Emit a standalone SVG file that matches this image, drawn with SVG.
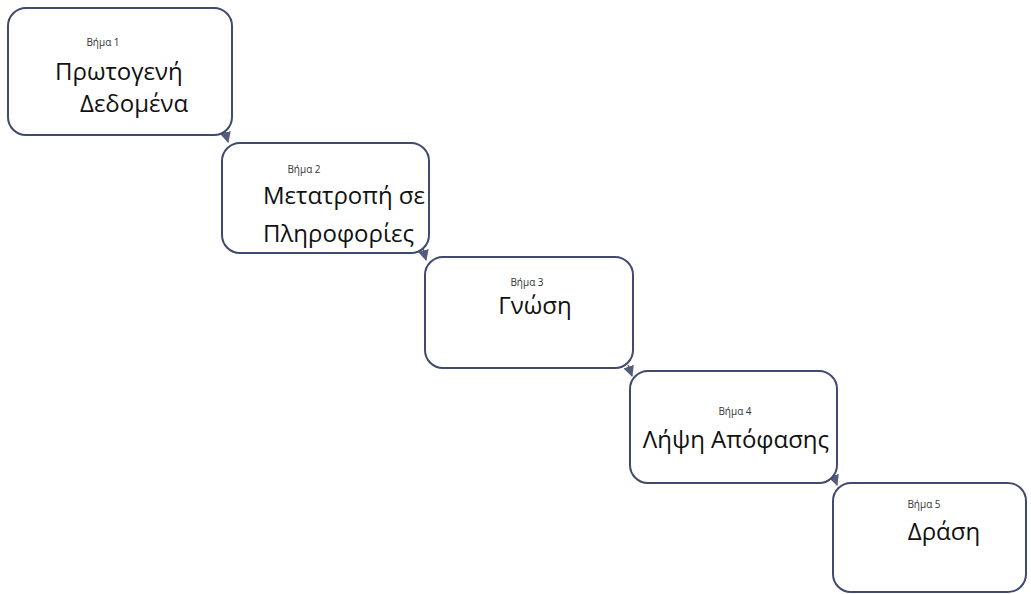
<svg xmlns="http://www.w3.org/2000/svg" width="1031" height="594" viewBox="0 0 1031 594">
<defs>
<style>
.box{fill:#ffffff;stroke:#3f4a6e;stroke-width:2}
.small{font-family:"Open Sans","Noto Sans","DejaVu Sans",sans-serif;font-size:10px;fill:#333333}
.big{font-family:"Open Sans","Noto Sans","DejaVu Sans",sans-serif;font-size:24px;fill:#111111}
.conn{stroke:#5a6080;stroke-width:1.5;fill:none}
</style>
<marker id="arr" viewBox="0 0 10 10" refX="9" refY="5" markerWidth="11" markerHeight="11" markerUnits="userSpaceOnUse" orient="auto">
<path d="M0,0 L10,5 L0,10 Z" fill="#555b7a"/>
</marker>
</defs>
<rect width="1031" height="594" fill="#ffffff"/>
<g id="connectors">
<path class="conn" d="M225,131 L228,142" marker-end="url(#arr)"/>
<path class="conn" d="M423,249 L426,260" marker-end="url(#arr)"/>
<path class="conn" d="M628,365 L632,376" marker-end="url(#arr)"/>
<path class="conn" d="M833,474 L837,485" marker-end="url(#arr)"/>
</g>
<g id="step1">
<rect class="box" x="8" y="8" width="224" height="127" rx="18"/>
<text class="small" x="103" y="46" text-anchor="middle">Βήμα 1</text>
<text class="big" x="55" y="80">Πρωτογενή</text>
<text class="big" x="80" y="112">Δεδομένα</text>
</g>
<g id="step2">
<rect class="box" x="222" y="143" width="207" height="110" rx="18"/>
<text class="small" x="304" y="173" text-anchor="middle">Βήμα 2</text>
<text class="big" x="263" y="204">Μετατροπή σε</text>
<text class="big" x="263" y="242">Πληροφορίες</text>
</g>
<g id="step3">
<rect class="box" x="425" y="257" width="208" height="111" rx="18"/>
<text class="small" x="527" y="286" text-anchor="middle">Βήμα 3</text>
<text class="big" x="535" y="314" text-anchor="middle">Γνώση</text>
</g>
<g id="step4">
<rect class="box" x="630" y="371" width="207" height="112" rx="18"/>
<text class="small" x="735" y="415" text-anchor="middle">Βήμα 4</text>
<text class="big" x="736" y="448" text-anchor="middle">Λήψη Απόφασης</text>
</g>
<g id="step5">
<rect class="box" x="833" y="483" width="193" height="109" rx="18"/>
<text class="small" x="924" y="508" text-anchor="middle">Βήμα 5</text>
<text class="big" x="944" y="540" text-anchor="middle">Δράση</text>
</g>
</svg>
